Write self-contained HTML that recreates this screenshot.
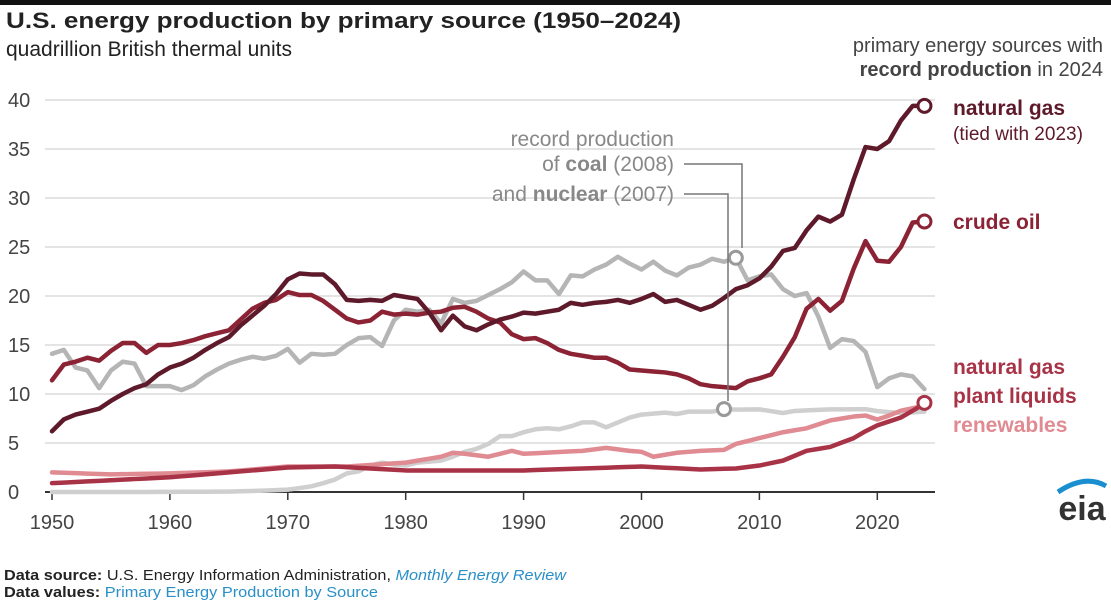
<!DOCTYPE html>
<html><head><meta charset="utf-8"><style>
body{margin:0;width:1111px;height:600px;background:#fff;overflow:hidden;font-family:"Liberation Sans",Arial,sans-serif}
</style></head><body>
<svg id="s" width="1111" height="600" xmlns="http://www.w3.org/2000/svg" font-family="Liberation Sans, Arial, sans-serif">
<rect x="0" y="0" width="1111" height="5" fill="#111"/>
<text x="6" y="28" font-size="22" font-weight="bold" fill="#222" textLength="675" lengthAdjust="spacingAndGlyphs">U.S. energy production by primary source (1950–2024)</text>
<text x="6" y="56" font-size="21" fill="#222">quadrillion British thermal units</text>
<text x="1103" y="52" font-size="20" fill="#444" text-anchor="end">primary energy sources with</text>
<text x="1103" y="76" font-size="20" fill="#444" text-anchor="end"><tspan font-weight="bold">record production</tspan> in 2024</text>
<g id="grid"></g>
<g id="lines"></g>
<g font-size="21" fill="#888" text-anchor="end">
<text x="674" y="146">record production</text>
<text x="674" y="171">of <tspan font-weight="bold">coal</tspan> (2008)</text>
<text x="674" y="201">and <tspan font-weight="bold">nuclear</tspan> (2007)</text>
</g>
<polyline points="684,164 742,164 742,248" fill="none" stroke="#777" stroke-width="1.5"/>
<polyline points="684,194 728,194 728,401" fill="none" stroke="#777" stroke-width="1.5"/>
<g font-size="21">
<text x="953" y="115" font-weight="bold" fill="#5e1a2a">natural gas</text>
<text x="953" y="140" fill="#5e1a2a" font-size="19">(tied with 2023)</text>
<text x="953" y="229" font-weight="bold" fill="#8b2335">crude oil</text>
<text x="953" y="374" font-weight="bold" fill="#a83246">natural gas</text>
<text x="953" y="403" font-weight="bold" fill="#a83246">plant liquids</text>
<text x="953" y="432" font-weight="bold" fill="#e08a92">renewables</text>
</g>
<text x="1082" y="520" font-size="34" font-weight="bold" fill="#333" text-anchor="middle">eia</text>
<path d="M1058,492 Q1085,474 1106,486" fill="none" stroke="#1a8fd0" stroke-width="5"/>
<text x="4" y="580" font-size="14.5" fill="#222" textLength="562" lengthAdjust="spacingAndGlyphs"><tspan font-weight="bold">Data source:</tspan> U.S. Energy Information Administration, <tspan fill="#2a8fc6" font-style="italic">Monthly Energy Review</tspan></text>
<text x="4" y="597" font-size="14.5" fill="#222" textLength="374" lengthAdjust="spacingAndGlyphs"><tspan font-weight="bold">Data values:</tspan> <tspan fill="#2a8fc6">Primary Energy Production by Source</tspan></text>
</svg>
<script>
const NS="http://www.w3.org/2000/svg";
const X=y=>52+(y-1950)*11.79, Y=v=>492-v*9.8;
const g=document.getElementById('grid'),L=document.getElementById('lines');
function el(p,t,a){const e=document.createElementNS(NS,t);for(const k in a)e.setAttribute(k,a[k]);p.appendChild(e);return e;}
for(let v=0;v<=40;v+=5){
 if(v>0)el(g,'line',{x1:45,x2:935,y1:Y(v),y2:Y(v),stroke:'#dcdcdc','stroke-width':1.5});
 const t=el(g,'text',{x:8,y:Y(v)+7,'font-size':20,fill:'#444'});t.textContent=v;
}
el(g,'line',{x1:45,x2:935,y1:492,y2:492,stroke:'#333','stroke-width':2});
for(let yr=1950;yr<=2020;yr+=10){
 el(g,'line',{x1:X(yr),x2:X(yr),y1:492,y2:500,stroke:'#333','stroke-width':1.5});
 const t=el(g,'text',{x:X(yr),y:529,'font-size':20,fill:'#444','text-anchor':'middle'});t.textContent=yr;
}
function interp(k){const ys=Object.keys(k).map(Number).sort((a,b)=>a-b);const r=[];
 for(let y=1950;y<=2024;y++){let i=0;while(i<ys.length-1&&ys[i+1]<y)i++;
  const a=ys[i],b=ys[Math.min(i+1,ys.length-1)];let v;
  if(y<=a)v=k[a];else if(y>=b)v=k[b];else v=k[a]+(k[b]-k[a])*(y-a)/(b-a);r.push(v);}return r;}
const gas=[6.2,7.4,7.9,8.2,8.5,9.3,10,10.6,11,12,12.7,13.1,13.7,14.5,15.2,15.8,17,18,19,20.2,21.7,22.3,22.2,22.2,21.2,19.6,19.5,19.6,19.5,20.1,19.9,19.7,18.3,16.5,18,16.9,16.5,17.1,17.6,17.9,18.3,18.2,18.4,18.6,19.3,19.1,19.3,19.4,19.6,19.3,19.7,20.2,19.4,19.6,19.1,18.6,19,19.8,20.7,21.1,21.8,23,24.6,24.9,26.7,28.1,27.6,28.3,31.9,35.2,35,35.8,37.9,39.4,39.4];
const oil=[11.4,13,13.3,13.7,13.4,14.4,15.2,15.2,14.2,15,15,15.2,15.5,15.9,16.2,16.5,17.6,18.7,19.3,19.6,20.4,20.1,20.1,19.5,18.6,17.7,17.3,17.5,18.4,18.1,18.2,18.1,18.3,18.4,18.8,18.9,18.4,17.7,17.3,16.1,15.6,15.7,15.2,14.5,14.1,13.9,13.7,13.7,13.2,12.5,12.4,12.3,12.2,12,11.6,11,10.8,10.7,10.6,11.3,11.6,12,13.8,15.8,18.7,19.7,18.5,19.5,22.8,25.6,23.6,23.5,25,27.5,27.6];
const coal=[14.1,14.5,12.7,12.4,10.6,12.4,13.3,13.1,10.8,10.8,10.8,10.4,10.9,11.8,12.5,13.1,13.5,13.8,13.6,13.9,14.6,13.2,14.1,14,14.1,15,15.7,15.8,14.9,17.5,18.6,18.4,18.6,17.2,19.7,19.3,19.5,20.1,20.7,21.4,22.5,21.6,21.6,20.2,22.1,22,22.7,23.2,24,23.3,22.7,23.5,22.6,22.1,22.9,23.2,23.8,23.5,23.9,21.6,22,22.2,20.7,20,20.3,17.9,14.7,15.6,15.4,14.3,10.7,11.6,12,11.8,10.5];
const nuc=interp({1950:0,1957:0,1965:0.04,1968:0.14,1970:0.24,1971:0.4,1972:0.58,1973:0.9,1974:1.27,1975:1.9,1976:2.1,1977:2.7,1978:3,1979:2.8,1980:2.7,1981:3,1982:3.1,1983:3.2,1984:3.6,1985:4.1,1986:4.4,1987:4.9,1988:5.7,1989:5.7,1990:6.1,1991:6.4,1992:6.5,1993:6.4,1994:6.7,1995:7.1,1996:7.1,1997:6.6,1998:7.1,1999:7.6,2000:7.9,2001:8,2002:8.1,2003:7.96,2004:8.2,2006:8.2,2007:8.46,2008:8.4,2010:8.43,2012:8.06,2013:8.27,2016:8.43,2019:8.45,2020:8.25,2022:8.06,2024:8.2});
const ren=interp({1950:2.0,1955:1.8,1960:1.9,1965:2.1,1970:2.6,1975:2.6,1980:3.0,1983:3.6,1984:4.0,1985:3.9,1987:3.6,1989:4.2,1990:3.9,1995:4.2,1997:4.5,1999:4.2,2000:4.1,2001:3.6,2003:4.0,2005:4.2,2007:4.3,2008:4.9,2010:5.5,2012:6.1,2014:6.5,2016:7.3,2018:7.7,2019:7.8,2020:7.4,2021:7.8,2022:8.3,2024:8.8});
const ngl=interp({1950:0.9,1955:1.2,1960:1.5,1965:2.0,1970:2.5,1974:2.6,1980:2.2,1985:2.2,1990:2.2,1995:2.4,2000:2.6,2005:2.3,2008:2.4,2010:2.7,2012:3.2,2014:4.2,2016:4.6,2018:5.5,2019:6.2,2020:6.8,2022:7.6,2024:9.0});
function line(d,c,w){el(L,'polyline',{points:d.map((v,i)=>X(1950+i)+','+Y(v)).join(' '),fill:'none',stroke:c,'stroke-width':w||4.5,'stroke-linejoin':'round','stroke-linecap':'round'});}
line(nuc,'#cfcfcf');line(coal,'#b5b5b5');line(ren,'#e08a92');line(ngl,'#a83246');line(oil,'#8b2335');line(gas,'#5e1a2a');
function circ(x,v,c){el(L,'circle',{cx:X(x),cy:Y(v),r:6.5,fill:'#fff',stroke:c,'stroke-width':3});}
circ(2008,23.9,'#999');circ(2007,8.46,'#999');circ(2024,39.4,'#5e1a2a');circ(2024,27.6,'#8b2335');circ(2024,9.1,'#a83246');
</script>
</body></html>
